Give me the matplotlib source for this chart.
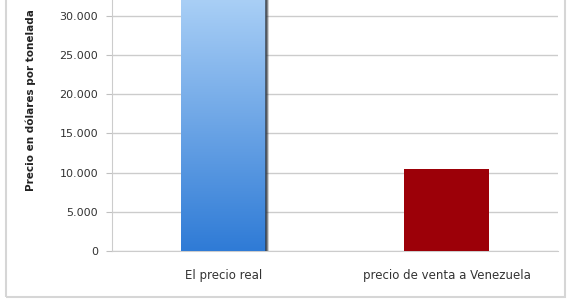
import numpy as np
import matplotlib.pyplot as plt
from matplotlib.patches import Rectangle
from matplotlib.colors import LinearSegmentedColormap

categorias = ["El precio real", "precio de venta a Venezuela"]
precios = [40000, 10400]
ticks_y = [0, 5000, 10000, 15000, 20000, 25000, 30000]
etiquetas_y = ["0", "5.000", "10.000", "15.000", "20.000", "25.000", "30.000"]

fig = plt.figure(figsize=(5.69, 3.01), dpi=100)
fig.patch.set_facecolor("white")
ax = fig.add_axes([0.197, 0.166, 0.784, 0.834])

x = np.arange(len(categorias))
barras = ax.bar(x, precios, width=0.38, color=["#5a9be6", "#9c0008"],
                edgecolor="none", zorder=3)

ax.set_xlim(-0.5, 1.5)
ax.set_ylim(0, 32000)

# degradado azul en la primera barra
b = barras[0]
x0, w = b.get_x(), b.get_width()
grad = np.linspace(0, 1, 256).reshape(-1, 1)
cmap = LinearSegmentedColormap.from_list("azul", ["#2f7bd6", "#a9cff6"])
img = ax.imshow(grad, cmap=cmap, aspect="auto", origin="lower",
                extent=[x0, x0 + w, 0, 32000], zorder=4)
img.set_clip_path(b)
# sombra a la derecha
for i, a in enumerate([0.75, 0.5, 0.25]):
    ax.axvline(x0 + w + i * 0.004, color="#30363d", alpha=a, lw=1.3, zorder=4)

ax.set_yticks(ticks_y)
ax.set_yticklabels(etiquetas_y, fontsize=8, color="#333333")
ax.set_xticks(x)
ax.set_xticklabels(categorias, fontsize=8.5, color="#333333")
ax.tick_params(axis="x", length=0, pad=13)
ax.tick_params(axis="y", length=4, color="#c0c0c0", pad=6)

ax.grid(axis="y", color="#cccccc", lw=1, zorder=0)
for s in ["top", "right"]:
    ax.spines[s].set_visible(False)
ax.spines["left"].set_color("#cccccc")
ax.spines["bottom"].set_color("#cccccc")

ax.set_ylabel("Precio en dólares por tonelada", fontsize=7.5, fontweight="bold",
              color="#222222")
ax.yaxis.set_label_coords(-0.17, 0.6)

# marco exterior
fig.add_artist(Rectangle((6 / 569, 4 / 301), 559 / 569, 300 / 301,
                         transform=fig.transFigure, fill=False,
                         edgecolor="#d6d6d6", lw=1.5))

fig.savefig("out.png", dpi=100)
